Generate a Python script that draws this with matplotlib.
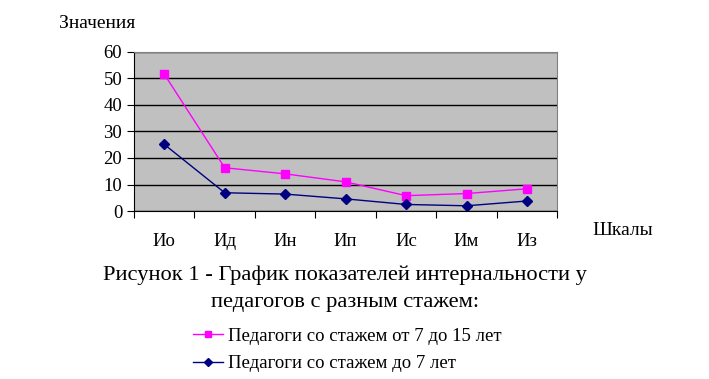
import matplotlib
matplotlib.use("Agg")
import matplotlib.pyplot as plt
import numpy as np

plt.rcParams['font.family'] = ['Liberation Serif', 'DejaVu Serif']

# data
categories = ["Ио", "Ид", "Ин", "Ип", "Ис", "Им", "Из"]
exp_7_15 = [51.5, 16.3, 14.0, 11.0, 5.8, 6.6, 8.4]
exp_under_7 = [25.1, 6.9, 6.4, 4.6, 2.5, 2.0, 3.8]

fig = plt.figure(figsize=(7.09, 3.79), dpi=100)
ax = fig.add_axes([0.189, 0.443, 0.597, 0.421])

x = np.arange(len(categories))
ax.set_facecolor("#C0C0C0")
ax.plot(x, exp_7_15, color="#FF00FF", marker="s", markersize=6, lw=1,
        label="Педагоги со стажем от 7 до 15 лет")
ax.plot(x, exp_under_7, color="#000080", marker="D", markersize=5, lw=1,
        label="Педагоги со стажем до 7 лет")

ax.set_xlim(-0.5, len(categories) - 0.5)
ax.set_ylim(0, 60)
ax.set_yticks(range(0, 61, 10))
ax.set_xticks(np.arange(-0.5, len(categories)))
ax.set_xticklabels([])
ax.set_xticks(x, minor=True)
ax.set_xticklabels(categories, minor=True)
ax.tick_params(axis="x", which="minor", length=0, pad=16, labelsize=13.5)
ax.tick_params(axis="x", which="major", length=5, direction="out")
ax.tick_params(axis="y", length=5, labelsize=13.5)
ax.yaxis.grid(True, color="black", lw=1)
ax.set_axisbelow(True)
for s in ax.spines.values():
    s.set_color("black")
ax.spines["top"].set_color("#808080")
ax.spines["right"].set_color("#808080")

fig.text(0.083, 0.938, "Значения", fontsize=14, ha="left", va="center")
fig.text(0.836, 0.393, "Шкалы", fontsize=14, ha="left", va="center")
fig.text(0.487, 0.238, "Рисунок 1 - График показателей интернальности у\nпедагогов с разным стажем:",
         fontsize=16.2, ha="center", va="center", linespacing=1.55)

fig.legend(loc="center left", bbox_to_anchor=(0.272, 0.077), frameon=False, fontsize=13.5,
           handlelength=1.6, handletextpad=0.3, labelspacing=0.55, borderaxespad=0,
           borderpad=0, markerscale=0.8)

fig.savefig("out.png", dpi=100)
